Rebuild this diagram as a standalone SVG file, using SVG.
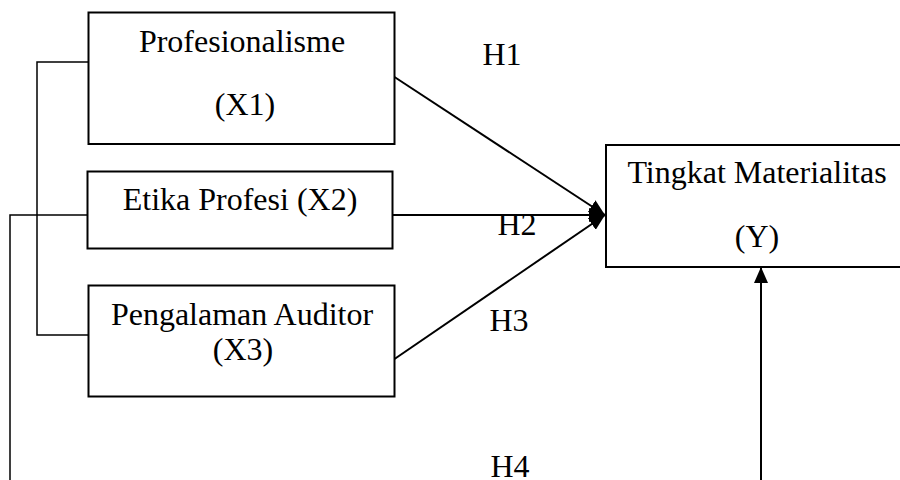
<svg xmlns="http://www.w3.org/2000/svg" width="900" height="480" viewBox="0 0 900 480">
<style>
  .box { fill: #ffffff; stroke: #000000; stroke-width: 2; }
  .lbl { font-family: "Liberation Serif", "Times New Roman", serif; font-size: 32px; fill: #000000; text-anchor: middle; }
  .thin { fill: none; stroke: #000000; stroke-width: 1.5; }
  .arr { fill: none; stroke: #000000; stroke-width: 2; marker-end: url(#ah); }
</style>
<defs>
  <marker id="ah" markerUnits="userSpaceOnUse" markerWidth="16" markerHeight="14" refX="16" refY="7" orient="auto">
    <path d="M0,0 L16,7 L0,14 z" fill="#000000"/>
  </marker>
</defs>
<rect width="900" height="480" fill="#ffffff"/>
<g id="connectors">
  <polyline class="thin" points="88.5,62 37,62 37,335 88.5,335"/>
  <polyline class="thin" points="87,215 10,215 10,480"/>
  <line class="arr" x1="394.5" y1="77" x2="605" y2="215"/>
  <line class="arr" x1="392.5" y1="215" x2="605" y2="215"/>
  <line class="arr" x1="394.5" y1="359" x2="605" y2="215"/>
  <line class="arr" x1="761" y1="480" x2="761" y2="267"/>
</g>
<g id="labels">
  <text class="lbl" x="502" y="65">H1</text>
  <text class="lbl" x="517" y="235">H2</text>
  <text class="lbl" x="509" y="331">H3</text>
  <text class="lbl" x="510" y="477">H4</text>
</g>
<g id="x1">
  <rect class="box" x="88.5" y="12.5" width="306" height="131.5"/>
  <text class="lbl" x="242" y="52">Profesionalisme</text>
  <text class="lbl" x="245" y="115">(X1)</text>
</g>
<g id="x2">
  <rect class="box" x="87.5" y="171.5" width="305" height="77"/>
  <text class="lbl" x="240" y="210">Etika Profesi (X2)</text>
</g>
<g id="x3">
  <rect class="box" x="88.5" y="285.5" width="306" height="111"/>
  <text class="lbl" x="242" y="325">Pengalaman Auditor</text>
  <text class="lbl" x="243" y="360">(X3)</text>
</g>
<g id="y">
  <rect class="box" x="606" y="145" width="304" height="122"/>
  <text class="lbl" x="757" y="183">Tingkat Materialitas</text>
  <text class="lbl" x="757" y="247">(Y)</text>
</g>
</svg>
